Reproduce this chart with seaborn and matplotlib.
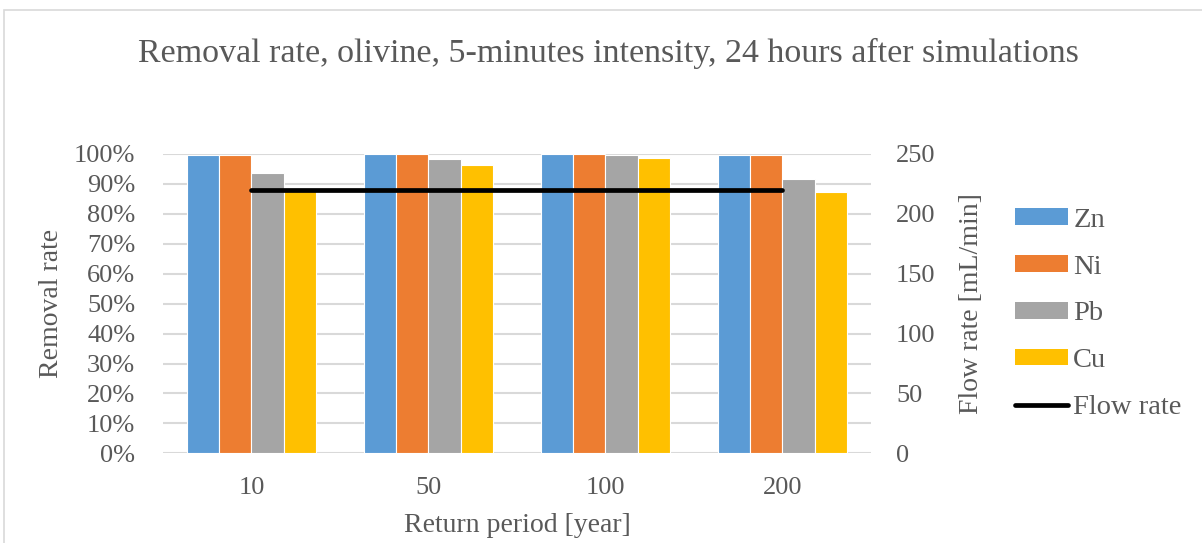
import numpy as np
import pandas as pd
import matplotlib
matplotlib.use("Agg")
import matplotlib.pyplot as plt
from matplotlib.patches import Patch, Rectangle
from matplotlib.lines import Line2D
import seaborn as sns

# Data
return_periods = ["10", "50", "100", "200"]
metals = ["Zn", "Ni", "Pb", "Cu"]
zn = [99.7, 100.0, 100.0, 99.7]
ni = [99.7, 100.0, 100.0, 99.7]
pb = [93.6, 98.2, 99.7, 91.6]
cu = [88.0, 96.3, 98.6, 87.2]
flow_rate = [220, 220, 220, 220]

colors = ["#5B9BD5", "#ED7D31", "#A5A5A5", "#FFC000"]
text_color = "#595959"
grid_color = "#D9D9D9"

df = pd.DataFrame({
    "period": return_periods * 4,
    "metal": [m for m in metals for _ in return_periods],
    "rate": zn + ni + pb + cu,
})

sns.set_theme(style="white")
plt.rcParams["font.family"] = ["Liberation Serif", "DejaVu Serif"]
plt.rcParams["text.color"] = text_color

fig = plt.figure(figsize=(12.02, 5.43), dpi=100)
ax = fig.add_axes([0.1356, 0.1652, 0.589, 0.5512])

sns.barplot(data=df, x="period", y="rate", hue="metal", hue_order=metals,
            order=return_periods, palette=colors, saturation=1, width=0.724, gap=0,
            edgecolor="white", linewidth=0.8, ax=ax, legend=False, zorder=2)

ax.set_ylim(0, 100)
ax.set_xlim(-0.5, 3.5)
ax.set_yticks(np.arange(0, 101, 10))
ax.set_yticklabels([f"{v}%" for v in range(0, 101, 10)])
ax.yaxis.grid(True, color=grid_color, linewidth=1.5, zorder=0)
ax.set_axisbelow(True)
for s in ax.spines.values():
    s.set_visible(False)
ax.tick_params(axis="y", length=0, pad=20, labelsize=19, labelcolor=text_color)
ax.tick_params(axis="x", length=0, pad=17, labelsize=19, labelcolor=text_color)
ax.set_xlabel("Return period [year]", fontsize=20, color=text_color)
ax.set_ylabel("Removal rate", fontsize=20, color=text_color)
ax.xaxis.set_label_coords(0.5, -0.2)
ax.yaxis.set_label_coords(-0.14, 0.5)

# Secondary axis with the flow rate
ax2 = ax.twinx()
sns.lineplot(x=np.arange(len(return_periods)), y=flow_rate, ax=ax2,
             color="black", linewidth=3.4, solid_capstyle="round", zorder=3)
ax2.set_ylim(0, 250)
ax2.set_yticks(np.arange(0, 251, 50))
for s in ax2.spines.values():
    s.set_visible(False)
ax2.tick_params(axis="y", length=0, pad=18, labelsize=19, labelcolor=text_color)
ax2.set_ylabel("Flow rate [mL/min]", fontsize=20, color=text_color)
ax2.yaxis.set_label_coords(1.125, 0.5)
ax2.grid(False)

fig.text(608 / 1202, 1 - 53 / 543,
         "Removal rate, olivine, 5-minutes intensity, 24 hours after simulations",
         ha="center", va="center", fontsize=24.5, color=text_color)

handles = [Patch(facecolor=c, edgecolor="none") for c in colors]
handles.append(Line2D([0], [0], color="black", linewidth=3.4, solid_capstyle="round"))
labels = metals + ["Flow rate"]
fig.legend(handles, labels, loc="center left", bbox_to_anchor=(1015 / 1202, 1 - 314 / 543),
           frameon=False, fontsize=20.5, handlelength=1.85, handleheight=0.5,
           handletextpad=0.2, labelspacing=0.77, borderpad=0, borderaxespad=0,
           labelcolor=text_color)

# Chart frame
fig.patches.append(Rectangle((4 / 1202, -0.1), 1.2, 1.1 - 10 / 543,
                             transform=fig.transFigure, fill=False,
                             edgecolor="#D9D9D9", linewidth=1.2))

fig.savefig("out.png", dpi=100)
